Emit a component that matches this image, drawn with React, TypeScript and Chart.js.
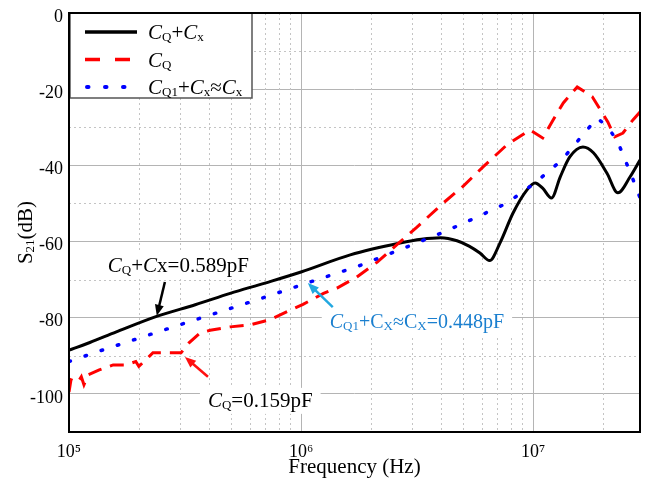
import React, { useEffect, useRef } from 'react';
import { Chart, registerables } from 'chart.js';

Chart.register(...registerables);

const FONT = '"Liberation Serif", "Times New Roman", Times, serif';

// ---- axes ----
const xMin = 1e5;
const xMax = 2.89e7;
const yMin = -110;
const yMax = 0;
const xMajorTicks = [1e5, 1e6, 1e7];
const yMajorTicks = [-100, -80, -60, -40, -20, 0];
const xMinorGrid = [2e5, 3e5, 4e5, 5e5, 6e5, 7e5, 8e5, 9e5, 2e6, 3e6, 4e6, 5e6, 6e6, 7e6, 8e6, 9e6, 2e7];
const yMinorGrid = [-90, -70, -50, -30, -10];

// ---- series: CQ + Cx (black solid) ----
const blackFreq = [1e5, 1.08e5, 1.23e5, 1.6e5, 2.42e5, 3.5e5, 4.95e5, 7e5, 1e6, 1.63e6, 2.67e6, 3.3e6, 4e6, 4.7e6, 5.3e6, 5.9e6, 6.5e6, 7.2e6, 8.2e6, 9.4e6, 1.02e7, 1.1e7, 1.2e7, 1.31e7, 1.44e7, 1.64e7, 1.82e7, 2.08e7, 2.32e7, 2.62e7, 2.89e7];
const blackDb = [-88.5, -87.8, -86.5, -83.7, -79.5, -76.6, -73.6, -70.9, -68, -63.5, -60.4, -59.4, -59, -59.8, -61.2, -63, -65, -60.4, -52.5, -46.5, -44.6, -46, -48.6, -43, -37.8, -35.2, -36.7, -42, -47.2, -43, -38.6];

// ---- series: CQ (red dashed) ----
const redFreq = [1e5, 1.02e5, 1.09e5, 1.13e5, 1.16e5, 1.21e5, 1.35e5, 1.55e5, 1.76e5, 1.94e5, 2.0e5, 2.23e5, 2.3e5, 2.7e5, 3.04e5, 3.29e5, 3.67e5, 4.06e5, 4.95e5, 6.03e5, 7.35e5, 8.97e5, 1.02e6, 1.25e6, 1.43e6, 1.74e6, 2.13e6, 2.59e6, 3.16e6, 4.1e6, 4.99e6, 6.09e6, 7.72e6, 9.7e6, 1.1e7, 1.22e7, 1.35e7, 1.55e7, 1.8e7, 2.1e7, 2.25e7, 2.44e7, 2.7e7, 2.89e7];
const redDb = [-99.5, -96.3, -97, -95.5, -97.6, -95, -93.7, -92.4, -92.4, -91.5, -92.8, -90, -89.2, -89.2, -89.2, -86.6, -84, -83.3, -82.4, -81.9, -80.5, -78, -76.5, -73.6, -72.2, -69.3, -65.4, -60.8, -56.2, -49.9, -45.5, -40.4, -34.6, -30.7, -32.8, -28.1, -23.6, -19.4, -22, -28.6, -32.5, -31.5, -28, -26];

// ---- series: CQ1 + Cx ≈ Cx (blue dotted) ----
const blueFreq = [1e5, 1.36e5, 3.32e5, 6.46e5, 1.06e6, 1.76e6, 2.86e6, 4.05e6, 5.63e6, 7.72e6, 1.02e7, 1.33e7, 1.68e7, 1.89e7, 2.1e7, 2.32e7, 2.67e7, 2.89e7];
const blueDb = [-91.5, -88.7, -81, -75.3, -70.9, -66.5, -61.4, -57.7, -53.8, -49.9, -44.6, -38.6, -31.2, -27.6, -29.9, -33.9, -43, -48.5];

type Seg = { t: string; it?: boolean; sub?: boolean };

// legend labels
const legendBlack: Seg[] = [{ t: 'C', it: true }, { t: 'Q', sub: true }, { t: '+' }, { t: 'C', it: true }, { t: 'x', sub: true }];
const legendRed: Seg[] = [{ t: 'C', it: true }, { t: 'Q', sub: true }];
const legendBlue: Seg[] = [{ t: 'C', it: true }, { t: 'Q1', sub: true }, { t: '+' }, { t: 'C', it: true }, { t: 'x', sub: true }, { t: '≈' }, { t: 'C', it: true }, { t: 'x', sub: true }];

// annotations: text anchor (freq, dB) and arrow tail/tip in data space
const noteBlackText: Seg[] = [{ t: 'C', it: true }, { t: 'Q', sub: true }, { t: '+' }, { t: 'C', it: true }, { t: 'x' }, { t: '=0.589pF' }];
const noteBlackAt = [1.47e5, -68.0];
const noteBlackArrow = [2.59e5, -70.6, 2.39e5, -79.5];

const noteRedText: Seg[] = [{ t: 'C', it: true }, { t: 'Q', sub: true }, { t: '=0.159pF' }];
const noteRedAt = [3.97e5, -103.4];
const noteRedArrow = [3.97e5, -95.5, 3.16e5, -90.3];

const noteBlueText: Seg[] = [{ t: 'C', it: true }, { t: 'Q1', sub: true }, { t: '+C' }, { t: 'X', sub: true }, { t: '≈C' }, { t: 'X', sub: true }, { t: '=0.448pF' }];
const noteBlueAt = [1.33e6, -82.8];
const noteBlueArrow = [1.37e6, -77.2, 1.07e6, -70.9];

const SUP: Record<string, string> = { '0': '⁰', '1': '¹', '2': '²', '3': '³', '4': '⁴', '5': '⁵', '6': '⁶', '7': '⁷', '8': '⁸', '9': '⁹' };

function segFont(s: Seg, size: number) {
  const fs = s.sub ? Math.round(size * 0.64) : size;
  return `${s.it ? 'italic ' : ''}${fs}px ${FONT}`;
}
function measureRich(ctx: CanvasRenderingContext2D, segs: Seg[], size: number) {
  let w = 0;
  for (const s of segs) {
    ctx.font = segFont(s, size);
    w += ctx.measureText(s.t).width;
  }
  return w;
}
function drawRich(ctx: CanvasRenderingContext2D, segs: Seg[], x: number, y: number, size: number, color: string) {
  ctx.save();
  ctx.fillStyle = color;
  ctx.textAlign = 'left';
  ctx.textBaseline = 'alphabetic';
  let cx = x;
  for (const s of segs) {
    ctx.font = segFont(s, size);
    ctx.fillText(s.t, cx, y + (s.sub ? size * 0.1 : 0));
    cx += ctx.measureText(s.t).width;
  }
  ctx.restore();
}
function drawArrow(ctx: CanvasRenderingContext2D, x1: number, y1: number, x2: number, y2: number, color: string, lw: number) {
  const a = Math.atan2(y2 - y1, x2 - x1);
  const L = 11;
  const W = 4.5;
  const c = Math.cos(a);
  const s = Math.sin(a);
  ctx.save();
  ctx.strokeStyle = color;
  ctx.fillStyle = color;
  ctx.lineWidth = lw;
  ctx.setLineDash([]);
  ctx.beginPath();
  ctx.moveTo(x1, y1);
  ctx.lineTo(x2 - L * 0.8 * c, y2 - L * 0.8 * s);
  ctx.stroke();
  ctx.beginPath();
  ctx.moveTo(x2, y2);
  ctx.lineTo(x2 - L * c + W * s, y2 - L * s - W * c);
  ctx.lineTo(x2 - L * c - W * s, y2 - L * s + W * c);
  ctx.closePath();
  ctx.fill();
  ctx.restore();
}

const decoPlugin = {
  id: 'deco',
  beforeDatasetsDraw(chart: any) {
    const { ctx, chartArea: a, scales } = chart;
    const x = scales.x;
    const y = scales.y;
    ctx.save();
    ctx.strokeStyle = '#c4c4c4';
    ctx.lineWidth = 1;
    ctx.setLineDash([2, 3]);
    ctx.beginPath();
    for (const v of xMinorGrid) {
      const px = Math.round(x.getPixelForValue(v)) + 0.5;
      ctx.moveTo(px, a.top);
      ctx.lineTo(px, a.bottom);
    }
    for (const v of yMinorGrid) {
      const py = Math.round(y.getPixelForValue(v)) + 0.5;
      ctx.moveTo(a.left, py);
      ctx.lineTo(a.right, py);
    }
    ctx.stroke();
    ctx.restore();

    const notes: [Seg[], number[], string, number][] = [
      [noteBlackText, noteBlackAt, '#000000', 21],
      [noteRedText, noteRedAt, '#000000', 21],
      [noteBlueText, noteBlueAt, '#1a7fcf', 20],
    ];
    for (const [segs, at, col, size] of notes) {
      const px = x.getPixelForValue(at[0]);
      const py = y.getPixelForValue(at[1]);
      const w = measureRich(ctx, segs, size);
      ctx.fillStyle = '#ffffff';
      ctx.fillRect(px - 8, py - 19, w + 16, 26);
      drawRich(ctx, segs, px, py, size, col);
    }
  },
  afterDatasetsDraw(chart: any) {
    const { ctx, chartArea: a, scales } = chart;
    const x = scales.x;
    const y = scales.y;
    const arrows: [number[], string][] = [
      [noteBlackArrow, '#000000'],
      [noteRedArrow, '#ff1010'],
      [noteBlueArrow, '#22a8e0'],
    ];
    for (const [ar, col] of arrows) {
      drawArrow(ctx, x.getPixelForValue(ar[0]), y.getPixelForValue(ar[1]), x.getPixelForValue(ar[2]), y.getPixelForValue(ar[3]), col, 2.5);
    }

    // legend
    const lx = a.left + 1;
    const ly = a.top;
    ctx.save();
    ctx.fillStyle = '#ffffff';
    ctx.fillRect(lx, ly, 182, 85);
    ctx.strokeStyle = '#555555';
    ctx.lineWidth = 1.5;
    ctx.strokeRect(lx, ly, 182, 85);
    const rows: [Seg[], string, number[], number, string, number][] = [
      [legendBlack, '#000000', [], 3.5, 'butt', 52],
      [legendRed, '#ff0000', [15, 15], 3.5, 'butt', 45],
      [legendBlue, '#0000ff', [1.5, 16.5], 4, 'round', 40],
    ];
    rows.forEach(([segs, col, dash, lw, cap, len], i) => {
      const ry = ly + 19 + i * 27.5;
      ctx.save();
      ctx.strokeStyle = col;
      ctx.lineWidth = lw;
      ctx.lineCap = cap as CanvasLineCap;
      ctx.setLineDash(dash);
      ctx.beginPath();
      const sx = lx + 15 + (cap === 'round' ? 2 : 0);
      ctx.moveTo(sx, ry);
      ctx.lineTo(sx + len, ry);
      ctx.stroke();
      ctx.restore();
      drawRich(ctx, segs, lx + 78, ry + 7, 21, '#000000');
    });
    ctx.restore();
  },
  afterDraw(chart: any) {
    const { ctx, chartArea: a } = chart;
    ctx.save();
    ctx.strokeStyle = '#000000';
    ctx.lineWidth = 2;
    ctx.setLineDash([]);
    ctx.strokeRect(a.left, a.top, a.right - a.left, a.bottom - a.top);
    // y-axis title S21(dB)
    const title: Seg[] = [{ t: 'S' }, { t: '21', sub: true }, { t: '(dB)' }];
    const w = measureRich(ctx, title, 21);
    ctx.translate(a.left - 44, (a.top + a.bottom) / 2 + 10);
    ctx.rotate(-Math.PI / 2);
    drawRich(ctx, title, -w / 2, 7, 21, '#000000');
    ctx.restore();
  },
};

export default function App() {
  const ref = useRef<HTMLCanvasElement>(null);
  useEffect(() => {
    const zeroPad = (s: any) => {
      s.paddingLeft = 0;
      s.paddingRight = 0;
      s.paddingTop = 0;
      s.paddingBottom = 0;
    };
    const chart = new Chart(ref.current as HTMLCanvasElement, {
      type: 'line',
      data: {
        datasets: [
          {
            label: 'CQ1+Cx≈Cx',
            data: blueFreq.map((f, i) => ({ x: f, y: blueDb[i] })),
            borderColor: '#0000ff',
            borderWidth: 3.5,
            borderDash: [1.5, 15.5],
            borderCapStyle: 'round',
            tension: 0,
            pointRadius: 0,
          },
          {
            label: 'CQ',
            data: redFreq.map((f, i) => ({ x: f, y: redDb[i] })),
            borderColor: '#ff0000',
            borderWidth: 3,
            borderDash: [14, 9],
            tension: 0,
            pointRadius: 0,
          },
          {
            label: 'CQ+Cx',
            data: blackFreq.map((f, i) => ({ x: f, y: blackDb[i] })),
            borderColor: '#000000',
            borderWidth: 3,
            cubicInterpolationMode: 'monotone',
            pointRadius: 0,
          },
        ],
      },
      options: {
        responsive: false,
        animation: false,
        devicePixelRatio: 1,
        layout: { padding: { top: 13, right: 6, left: 0, bottom: 0 } },
        plugins: { legend: { display: false }, tooltip: { enabled: false } },
        scales: {
          x: {
            type: 'logarithmic',
            min: xMin,
            max: xMax,
            afterBuildTicks: (s: any) => {
              s.ticks = xMajorTicks.map((v) => ({ value: v }));
            },
            afterFit: (s: any) => {
              s.height = 48;
              zeroPad(s);
            },
            ticks: {
              autoSkip: false,
              maxRotation: 0,
              padding: 9,
              color: '#000000',
              font: { family: FONT, size: 18 },
              callback: (v: any) => '10' + String(Math.round(Math.log10(Number(v)))).split('').map((c) => SUP[c]).join(''),
            },
            grid: { color: '#b4b4b4', lineWidth: 1, drawTicks: false },
            border: { display: false },
            title: {
              display: true,
              text: 'Frequency (Hz)',
              color: '#000000',
              font: { family: FONT, size: 21 },
              padding: { top: 0, bottom: 0 },
            },
          },
          y: {
            type: 'linear',
            min: yMin,
            max: yMax,
            afterBuildTicks: (s: any) => {
              s.ticks = yMajorTicks.map((v) => ({ value: v }));
            },
            afterFit: (s: any) => {
              s.width = 69;
              zeroPad(s);
            },
            ticks: {
              autoSkip: false,
              padding: 6,
              labelOffset: 4,
              color: '#000000',
              font: { family: FONT, size: 18 },
              callback: (v: any) => String(v),
            },
            grid: { color: '#b4b4b4', lineWidth: 1, drawTicks: false },
            border: { display: false },
          },
        },
      } as any,
      plugins: [decoPlugin],
    });
    return () => chart.destroy();
  }, []);
  return (
    <canvas
      ref={ref}
      width={646}
      height={480}
      style={{ position: 'absolute', left: 0, top: 0, width: 646, height: 480 }}
    />
  );
}
